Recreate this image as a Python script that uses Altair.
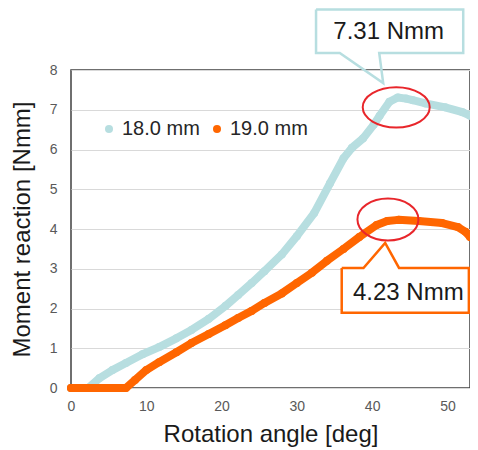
import altair as alt
import pandas as pd

# ---- data ----
series_names = ["18.0 mm", "19.0 mm"]
series_colors = ["#b7dee0", "#ff6600"]

cyan_deg = [0, 2.3, 3.8, 5.5, 7.3, 9.5, 11.7, 14.0, 16.0, 18.3, 20.5, 22.2, 24.0, 25.7, 28.0,
            30.0, 32.3, 34.4, 36.2, 37.3, 38.8, 40.2, 41.0, 42.3, 43.4, 44.5, 45.4, 47.1, 49.7, 52.0, 53.0]
cyan_val = [0, 0, 0.25, 0.45, 0.63, 0.85, 1.03, 1.25, 1.46, 1.74, 2.06, 2.34, 2.64, 2.94, 3.36,
            3.82, 4.4, 5.15, 5.78, 6.04, 6.28, 6.62, 6.85, 7.2, 7.31, 7.28, 7.24, 7.16, 7.06, 6.94, 6.85]

orange_deg = [0, 7.3, 8.5, 10.0, 11.7, 14.0, 16.0, 18.3, 20.5, 22.2, 24.0, 25.7, 28.0, 30.0, 32.0,
              34.0, 36.2, 38.3, 40.6, 42.0, 43.5, 46.2, 49.3, 51.4, 52.4, 53.0]
orange_val = [0, 0, 0.2, 0.45, 0.65, 0.9, 1.13, 1.36, 1.58, 1.76, 1.94, 2.14, 2.38, 2.64, 2.9,
              3.2, 3.5, 3.8, 4.1, 4.2, 4.23, 4.2, 4.15, 4.05, 3.93, 3.8]

x_ticks = [0, 10, 20, 30, 40, 50]
y_ticks = [0, 1, 2, 3, 4, 5, 6, 7, 8]

# annotation anchors (data units)
peak_labels = ["7.31 Nmm", "4.23 Nmm"]
peak_label_deg = [42.2, 44.8]
peak_label_val = [8.96, 2.39]
ellipse_deg = [43.2, 42.1]
ellipse_val = [7.06, 4.24]

callout_cyan_deg = [32.55, 52.10, 52.10, 40.94, 41.47, 35.70, 32.55, 32.55]
callout_cyan_val = [9.52, 9.52, 8.43, 8.43, 7.67, 8.43, 8.43, 9.52]
callout_cyan_box = [32.55, 52.10, 8.43, 9.52]
callout_orange_deg = [35.96, 38.85, 41.73, 43.57, 52.85, 52.85, 35.96, 35.96]
callout_orange_val = [3.02, 3.02, 3.65, 3.02, 3.02, 1.89, 1.89, 3.02]
callout_orange_box = [35.96, 52.85, 1.89, 3.02]

FONT = "Liberation Sans"

# ---- tables ----
df = pd.concat([
    pd.DataFrame({"deg": cyan_deg, "val": cyan_val, "series": series_names[0]}),
    pd.DataFrame({"deg": orange_deg, "val": orange_val, "series": series_names[1]}),
], ignore_index=True)

x_scale = alt.Scale(domain=[0, 53], nice=False, zero=False)
y_scale = alt.Scale(domain=[0, 8], nice=False)
color_scale = alt.Scale(domain=series_names, range=series_colors)

x_axis = alt.Axis(values=x_ticks, title="Rotation angle [deg]", grid=False,
                  labelPadding=11, titlePadding=9, labelFlush=False)
y_axis = alt.Axis(values=y_ticks, title="Moment reaction [Nmm]", grid=True,
                  labelPadding=14, titlePadding=15, labelOverlap=False,
                  labelAlign="right")
legend = alt.Legend(title=None, orient="none", direction="horizontal",
                    legendX=28, legendY=49, padding=0,
                    symbolType="circle", symbolSize=64,
                    symbolStrokeWidth=0, labelFontSize=20,
                    labelFont=FONT, labelColor="#262626",
                    labelOffset=3, columnPadding=7)


def XX(field):
    return alt.X(field, scale=x_scale, axis=x_axis)


def YY(field):
    return alt.Y(field, scale=y_scale, axis=y_axis)


color = alt.Color("series:N", scale=color_scale, legend=legend)

layers = []
for i, name in enumerate(series_names):
    sub = alt.Chart(df).transform_filter(alt.datum.series == name)
    line = sub.mark_line(strokeWidth=8, strokeCap="round", strokeJoin="round").encode(
        x=XX("deg:Q"), y=YY("val:Q"), color=color, order=alt.Order("deg:Q"),
    )
    pts = sub.mark_point(filled=True, size=64, opacity=1, shape="circle").encode(
        x=XX("deg:Q"), y=YY("val:Q"), color=color,
    )
    layers += [line, pts]


# ellipses
def ellipse_path(k):
    c = 0.5523
    return (f"M -1 0 C -1 {-c*k:.4f} {-c:.4f} {-k:.4f} 0 {-k:.4f} "
            f"C {c:.4f} {-k:.4f} 1 {-c*k:.4f} 1 0 "
            f"C 1 {c*k:.4f} {c:.4f} {k:.4f} 0 {k:.4f} "
            f"C {-c:.4f} {k:.4f} -1 {c*k:.4f} -1 0 Z")


ell_df = pd.DataFrame({"deg": ellipse_deg, "val": ellipse_val})
ell_sizes = [67 * 67, 61 * 61]
ell_ratio = [0.6, 0.69]
for i in range(2):
    e = alt.Chart(ell_df.iloc[[i]]).mark_point(
        shape=ellipse_path(ell_ratio[i]), size=ell_sizes[i], filled=False,
        stroke="#e8262b", strokeWidth=2, opacity=1,
    ).encode(x=XX("deg:Q"), y=YY("val:Q"))
    layers.append(e)

# callouts
callouts = [
    (callout_cyan_deg, callout_cyan_val, callout_cyan_box, series_colors[0]),
    (callout_orange_deg, callout_orange_val, callout_orange_box, series_colors[1]),
]
for i, (cd, cv, bx, col) in enumerate(callouts):
    box = pd.DataFrame({"deg": [bx[0]], "deg2": [bx[1]], "val": [bx[2]], "val2": [bx[3]]})
    rect = alt.Chart(box).mark_rect(fill="white").encode(
        x=XX("deg:Q"), x2="deg2:Q", y=YY("val:Q"), y2="val2:Q",
    )
    poly = pd.DataFrame({"deg": cd, "val": cv, "o": list(range(len(cd)))})
    outline = alt.Chart(poly).mark_line(stroke=col, strokeWidth=2.5, strokeJoin="miter").encode(
        x=XX("deg:Q"), y=YY("val:Q"), order=alt.Order("o:Q"),
    )
    txt = alt.Chart(pd.DataFrame({"deg": [peak_label_deg[i]], "val": [peak_label_val[i]],
                                  "t": [peak_labels[i]]})).mark_text(
        font=FONT, fontSize=24, color="#1a1a1a", align="center", baseline="middle",
    ).encode(x=XX("deg:Q"), y=YY("val:Q"), text="t:N")
    layers += [rect, outline, txt]

chart = alt.layer(*layers).properties(
    width=399, height=318,
    autosize=alt.AutoSizeParams(type="none"),
    padding={"left": 63, "top": 62, "right": 0, "bottom": 62},
).configure_view(
    stroke="#404040", strokeWidth=1.5,
).configure_axis(
    domain=False, ticks=False,
    gridColor="#d9d9d9", gridWidth=1,
    labelFont=FONT, labelFontSize=14, labelColor="#595959",
    titleFont=FONT, titleFontSize=24, titleFontWeight="normal", titleColor="#1a1a1a",
)

chart.save("out.html", embed_options={"renderer": "svg", "actions": False})
